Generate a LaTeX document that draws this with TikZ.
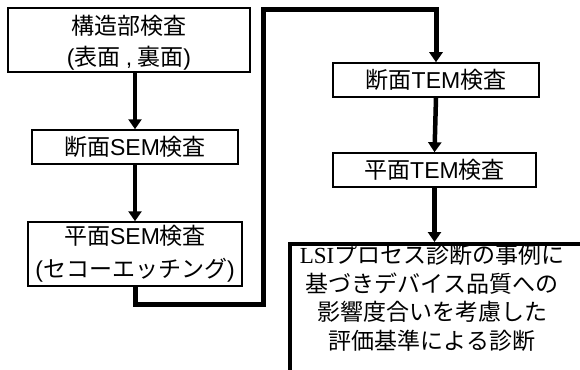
\documentclass[tikz,border=0pt]{standalone}
\usepackage{fontspec}
\setmainfont{Noto Sans CJK JP}
\newfontfamily\latsans{Liberation Sans}
\newfontfamily\latserif{Liberation Serif}
\usetikzlibrary{arrows.meta}
\begin{document}
\begin{tikzpicture}[x=1pt,y=-1pt,
  box/.style={draw, line width=1.5pt, inner sep=0pt, align=center, fill=white},
  txtA/.style={font=\fontsize{23pt}{31pt}\selectfont},
  txtB/.style={font=\fontsize{23pt}{33pt}\selectfont},
  txtC/.style={font=\fontsize{23pt}{28.5pt}\selectfont, align=center, inner sep=0pt},
  bigbox/.style={draw, line width=4pt, inner sep=0pt},
  flow/.style={line width=4.5pt, -{Triangle[width=13pt,length=10pt]}},
  loopline/.style={line width=5pt, line join=miter, -{Triangle[width=13pt,length=10pt]}}]
\useasboundingbox (0,0) rectangle (580,369);
\clip (0,0) rectangle (580,369);
\fill[white] (0,0) rectangle (580,369);
% boxes
\node[box, minimum width=242pt, minimum height=64pt] (b1) at (129,40) {};
\node[txtA, align=center, inner sep=0pt] (t1) at (129,43)
  {構造部検査\\{\latsans(}表面 {\latsans,} 裏面{\latsans)}};
\node[box, txtA, minimum width=206pt, minimum height=34pt] (b2) at (135,147)
  {断面{\latsans SEM}検査};
\node[box, txtB, minimum width=214pt, minimum height=64pt] (b3) at (135,254)
  {平面{\latsans SEM}検査\\{\latsans(}セコーエッチング{\latsans)}};
\node[box, txtA, minimum width=206pt, minimum height=34pt] (b4) at (436,80)
  {断面{\latsans TEM}検査};
\node[box, txtA, minimum width=203pt, minimum height=34pt] (b5) at (434.5,170)
  {平面{\latsans TEM}検査};
\node[bigbox, anchor=north west, minimum width=330pt, minimum height=160pt] (b6) at (288,242) {};
\node[txtC] (t6) at (432,298)
  {{\latserif LSI}プロセス診断の事例に\\基づきデバイス品質への\\影響度合いを考慮した\\評価基準による診断};
% connectors
\draw[flow] (b2.north |- b1.south) -- (b2.north);
\draw[flow] (b2.south) -- (b3.north);
\coordinate (c1) at (263,304);
\coordinate (c2) at (436,10);
\draw[loopline] (b3.south) |- (c1) -- (c1 |- c2) -- (c2) -- (b4.north);
\draw[flow] (b4.south) -- (b5.north);
\draw[flow] (b5.south) -- (b5.south |- b6.north);
\end{tikzpicture}
\end{document}
